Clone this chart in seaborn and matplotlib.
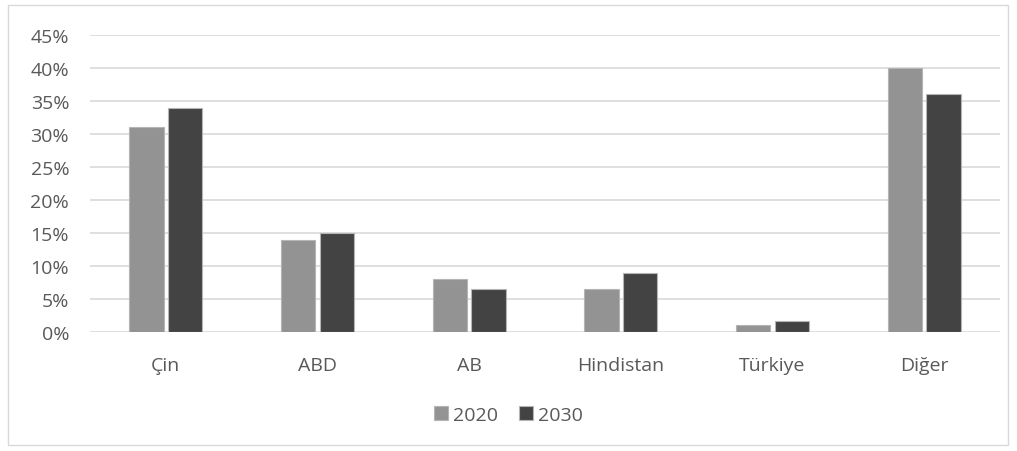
import pandas as pd
import seaborn as sns
import matplotlib.pyplot as plt
from matplotlib.patches import Rectangle
from matplotlib.ticker import PercentFormatter

# values (share, %)
regions = ['Çin', 'ABD', 'AB', 'Hindistan', 'Türkiye', 'Diğer']
share_2020 = [31, 14, 8, 6.5, 1, 40]
share_2030 = [34, 15, 6.5, 9, 1.7, 36]
years = ['2020', '2030']

df = pd.DataFrame({
    'Bölge': regions * 2,
    'Yıl': [years[0]] * len(regions) + [years[1]] * len(regions),
    'Pay': [v / 100 for v in share_2020 + share_2030],
})

sns.set_style('white')
plt.rcParams['font.family'] = ['Open Sans', 'DejaVu Sans']
text_col = '#595959'

fig = plt.figure(figsize=(10.17, 4.52), dpi=100)
ax = fig.add_axes([90 / 1017, 1 - 333 / 452, 910 / 1017, (333 - 36) / 452])

sns.barplot(
    data=df, x='Bölge', y='Pay', hue='Yıl',
    palette=['#939393', '#434343'],
    width=0.51, gap=0.12,
    edgecolor='#b5b5b5', linewidth=0.8,
    ax=ax, zorder=3,
)

ax.set_ylim(0, 0.45)
ax.set_yticks([i * 0.05 for i in range(10)])
ax.yaxis.set_major_formatter(PercentFormatter(1.0, decimals=0))
ax.grid(axis='y', color='#d9d9d9', linewidth=1.2, zorder=0)
ax.set_axisbelow(True)
for s in ax.spines.values():
    s.set_visible(False)
ax.set_xlabel('')
ax.set_ylabel('')
ax.tick_params(axis='both', length=0, labelsize=14, colors=text_col)
ax.tick_params(axis='x', pad=17)
ax.tick_params(axis='y', pad=15)

ax.get_legend().remove()
handles, labels = ax.get_legend_handles_labels()
fig.legend(handles, labels, loc='center', bbox_to_anchor=(0.5, 1 - 416 / 452),
           ncol=2, frameon=False, fontsize=14, labelcolor=text_col,
           handlelength=0.7, handleheight=0.7, handletextpad=0.25, columnspacing=1.1)

fig.patches.append(Rectangle((8 / 1017, 6 / 452), 1000 / 1017, 440 / 452,
                             transform=fig.transFigure, fill=False,
                             edgecolor='#d9d9d9', linewidth=1))

fig.savefig('out.png', dpi=100)
